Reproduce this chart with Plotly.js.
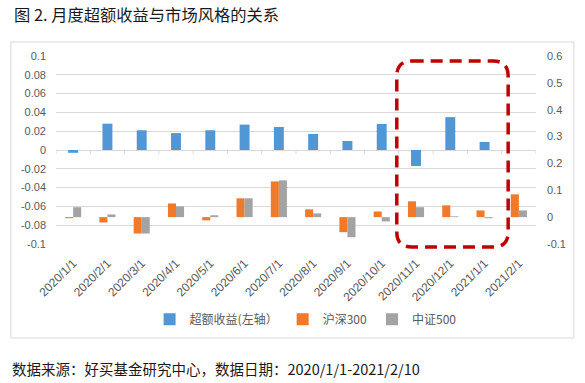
<!DOCTYPE html>
<html><head><meta charset="utf-8">
<script src="https://cdn.plot.ly/plotly-3.0.1.min.js"></script>
<style>html,body{margin:0;padding:0;background:#fff}#chart{width:585px;height:383px}</style>
</head><body><div id="chart"></div>
<script>
const categories = ['2020/1/1','2020/2/1','2020/3/1','2020/4/1','2020/5/1','2020/6/1','2020/7/1','2020/8/1','2020/9/1','2020/10/1','2020/11/1','2020/12/1','2021/1/1','2021/2/1'];
const excessReturn = [-0.003, 0.028, 0.021, 0.018, 0.021, 0.027, 0.0245, 0.017, 0.0096, 0.0277, -0.017, 0.035, 0.0085, null];
const hs300 = [-0.004, -0.02, -0.061, 0.051, -0.012, 0.07, 0.133, 0.029, -0.056, 0.021, 0.059, 0.044, 0.025, 0.085];
const zz500 = [0.037, 0.01, -0.061, 0.04, 0.007, 0.07, 0.137, 0.014, -0.075, -0.016, 0.037, 0.003, -0.004, 0.025];
const leftTicks = [0.1, 0.08, 0.06, 0.04, 0.02, 0, -0.02, -0.04, -0.06, -0.08, -0.1];
const leftTickText = ['0.1','0.08','0.06','0.04','0.02','0','-0.02','-0.04','-0.06','-0.08','-0.1'];
const rightTicks = [0.6, 0.5, 0.4, 0.3, 0.2, 0.1, 0, -0.1];
const rightTickText = ['0.6','0.5','0.4','0.3','0.2','0.1','0','-0.1'];

const FONT = 'Liberation Sans, Noto Sans CJK SC, sans-serif';
const CJK = 'Noto Sans CJK SC, sans-serif';
const GRID = '#d9d9d9';
const TXT = '#595959';

const traces = [
  {type:'bar', name:'超额收益(左轴）', x:categories, y:excessReturn, xaxis:'x', yaxis:'y',
   width:0.29, offset:-0.145, marker:{color:'#5197d6'}},
  {type:'bar', name:'沪深300', x:categories, y:hs300, xaxis:'x', yaxis:'y2',
   width:0.235, offset:-0.235, marker:{color:'#f0792a'}},
  {type:'bar', name:'中证500', x:categories, y:zz500, xaxis:'x', yaxis:'y2',
   width:0.235, offset:0, marker:{color:'#a3a3a3'}}
];

const r = 0.031, ry = 0.08;
const bx0 = 0.710, bx1 = 0.942, by0 = -0.016, by1 = 0.973;
const roundPath = `M ${bx0+r},${by1} L ${bx1-r},${by1} Q ${bx1},${by1} ${bx1},${by1-ry} L ${bx1},${by0+ry} Q ${bx1},${by0} ${bx1-r},${by0} L ${bx0+r},${by0} Q ${bx0},${by0} ${bx0},${by0+ry} L ${bx0},${by1-ry} Q ${bx0},${by1} ${bx0+r},${by1} Z`;

// tick marks on the zero line, at category boundaries
const boundaryTicks = categories.map((c, i) => i - 0.5).concat([categories.length - 0.5]).map(b => ({
  type:'line', xref:'x', yref:'y', x0:b, x1:b, y0:0, y1:-0.0045, line:{color:GRID, width:1}, layer:'below'
}));

const layout = {
  width:585, height:383,
  margin:{l:56, r:49, t:56, b:139},
  paper_bgcolor:'#fff', plot_bgcolor:'#fff',
  font:{family:FONT, size:11, color:TXT},
  barmode:'overlay',
  showlegend:true,
  legend:{orientation:'h', x:0.52, xanchor:'center', y:-0.40, yanchor:'middle',
          font:{family:CJK, size:12, color:TXT}, itemwidth:30, traceorder:'normal'},
  xaxis:{type:'category', categoryorder:'array', categoryarray:categories, range:[-0.5,13.5],
         showgrid:false, showline:false, zeroline:false, ticks:'', tickangle:-45, ticklabelstandoff:9,
         tickfont:{family:FONT, size:12, color:TXT}},
  yaxis:{range:[-0.1,0.1], tickmode:'array', tickvals:leftTicks, ticktext:leftTickText,
         showgrid:true, gridcolor:GRID, gridwidth:1, zeroline:true, zerolinecolor:GRID, zerolinewidth:1,
         showline:false, ticks:'', ticklabelstandoff:9,
         tickfont:{family:FONT, size:11, color:TXT}},
  yaxis2:{range:[-0.1,0.6], tickmode:'array', tickvals:rightTicks, ticktext:rightTickText,
          overlaying:'y', side:'right', anchor:'x', showgrid:false, zeroline:false, showline:false, ticks:'',
          ticklabelstandoff:10,
          tickfont:{family:FONT, size:11, color:TXT}},
  shapes:[
    {type:'rect', xref:'paper', yref:'paper', x0:-0.094, x1:1.079, y0:-0.5, y1:1.0745,
     line:{color:GRID, width:1}, layer:'below'},
    {type:'path', xref:'paper', yref:'paper', path:roundPath,
     line:{color:'#c00000', width:3.5, dash:'12px,7px'}, layer:'above'}
  ].concat(boundaryTicks),
  annotations:[
    {text:'图 2. 月度超额收益与市场风格的关系', xref:'paper', yref:'paper', x:-0.0917, y:1.223,
     xanchor:'left', yanchor:'middle', showarrow:false, font:{family:CJK, size:16.3, color:'#1a1a1a'}},
    {text:'数据来源：好买基金研究中心，数据日期：2020/1/1-2021/2/10', xref:'paper', yref:'paper', x:-0.096, y:-0.66,
     xanchor:'left', yanchor:'middle', showarrow:false, font:{family:CJK, size:14.5, color:'#1a1a1a'}}
  ]
};

Plotly.newPlot('chart', traces, layout, {displayModeBar:false, staticPlot:true});
</script></body></html>
